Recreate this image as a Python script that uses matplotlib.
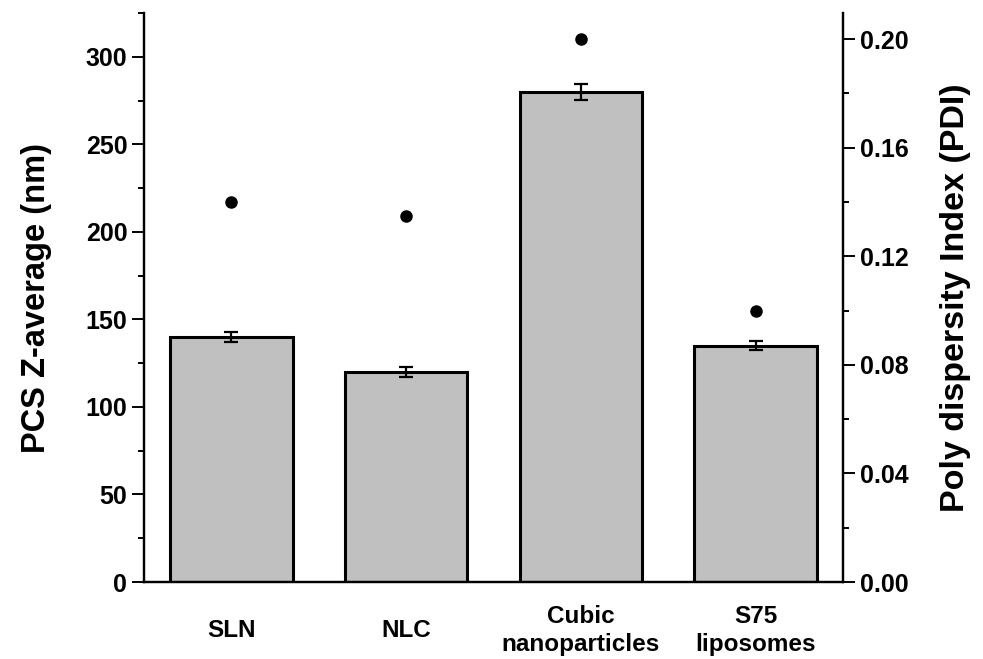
import matplotlib
matplotlib.use("Agg")
import matplotlib.pyplot as plt
import numpy as np

categories = ["SLN", "NLC", "Cubic\nnanoparticles", "S75\nliposomes"]
z_average = [140, 120, 280, 135]
z_error = [3, 3, 4.5, 2.6]
pdi = [0.140, 0.135, 0.200, 0.100]

plt.rcParams['font.family'] = ['Liberation Sans', 'DejaVu Sans']
plt.rcParams['font.weight'] = 'bold'

fig = plt.figure(figsize=(9.83, 6.59), dpi=100)
ax = fig.add_axes([0.1465, 0.1168, 0.7111, 0.8635])
x = np.arange(len(categories))
ax.bar(x, z_average, width=0.7, color='#c0c0c0', edgecolor='black', linewidth=2.2, zorder=2)
ax.errorbar(x, z_average, yerr=z_error, fmt='none', ecolor='black', elinewidth=1.6,
            capsize=5, capthick=1.6, zorder=3)
ax.set_xlim(-0.5, 3.5)
ax.set_ylim(0, 325)
ax.set_yticks([0, 50, 100, 150, 200, 250, 300])
ax.set_yticks([25, 75, 125, 175, 225, 275, 325], minor=True)
ax.set_xticks(x)
ax.set_xticklabels(categories, fontsize=17.5, fontweight='bold', linespacing=1.3)
for lbl in ax.get_xticklabels():
    lbl.set_va('center')
ax.tick_params(axis='x', length=0, pad=35)
ax.tick_params(axis='y', which='major', length=8.5, width=1.4, labelsize=18, direction='out')
ax.tick_params(axis='y', which='minor', length=4.5, width=1.4, direction='out')
ax.set_ylabel("PCS Z-average (nm)", fontsize=23.5, fontweight='bold', labelpad=24)
ax.spines['top'].set_visible(False)
for s in ['left', 'bottom', 'right']:
    ax.spines[s].set_linewidth(1.6)

ax2 = ax.twinx()
ax2.plot(x, pdi, 'o', color='black', markersize=8, zorder=4)
ax2.set_ylim(0, 0.2096)
ax2.set_yticks([0.00, 0.04, 0.08, 0.12, 0.16, 0.20])
ax2.set_yticklabels(["0.00", "0.04", "0.08", "0.12", "0.16", "0.20"])
ax2.set_yticks([0.02, 0.06, 0.10, 0.14, 0.18], minor=True)
ax2.tick_params(axis='y', which='major', length=8.5, width=1.4, labelsize=18, direction='out')
ax2.tick_params(axis='y', which='minor', length=4.5, width=1.4, direction='out')
ax2.set_ylabel("Poly dispersity Index (PDI)", fontsize=24.5, fontweight='bold', labelpad=23)
ax2.spines['top'].set_visible(False)
for s in ['left', 'bottom', 'right']:
    ax2.spines[s].set_linewidth(1.6)

fig.savefig("out.png", dpi=100)
